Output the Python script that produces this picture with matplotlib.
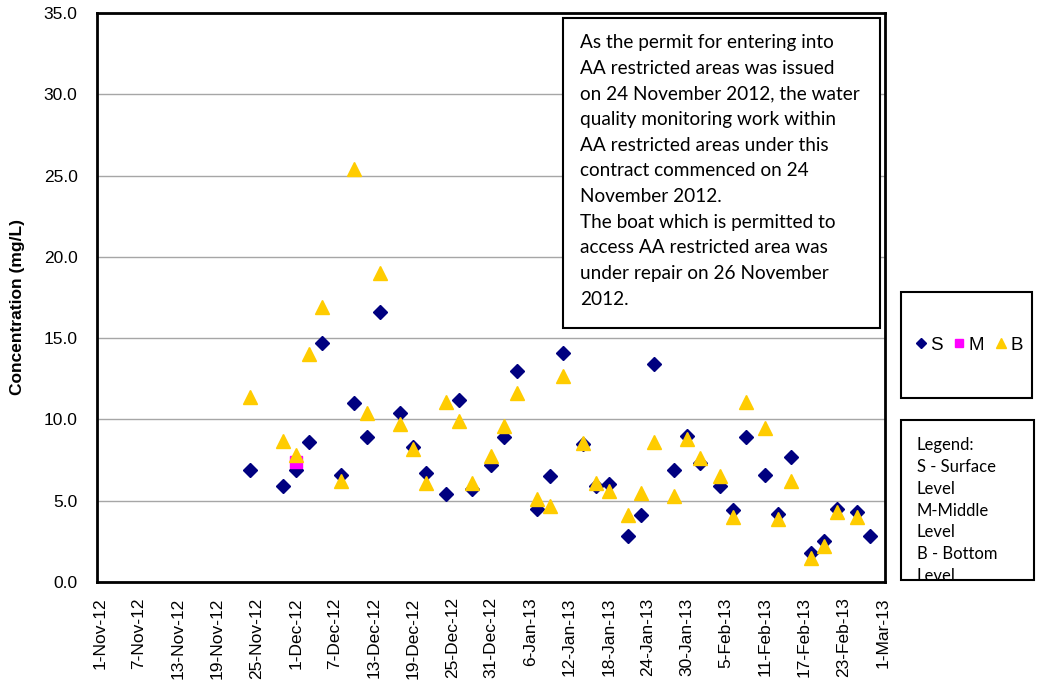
import matplotlib
matplotlib.use("Agg")
import matplotlib.pyplot as plt
from matplotlib.patches import Rectangle
from matplotlib.ticker import FormatStrFormatter, MultipleLocator
import datetime as dt

# ---------------- data ----------------
dates_S = ['2012-11-24', '2012-11-29', '2012-12-01', '2012-12-03', '2012-12-05', '2012-12-08',
           '2012-12-10', '2012-12-12', '2012-12-14', '2012-12-17', '2012-12-19', '2012-12-21',
           '2012-12-24', '2012-12-26', '2012-12-28', '2012-12-31', '2013-01-02', '2013-01-04',
           '2013-01-07', '2013-01-09', '2013-01-11', '2013-01-14', '2013-01-16', '2013-01-18',
           '2013-01-21', '2013-01-23', '2013-01-25', '2013-01-28', '2013-01-30', '2013-02-01',
           '2013-02-04', '2013-02-06', '2013-02-08', '2013-02-11', '2013-02-13', '2013-02-15',
           '2013-02-18', '2013-02-20', '2013-02-22', '2013-02-25', '2013-02-27']
values_S = [6.9, 5.9, 6.9, 8.6, 14.7, 6.6, 11.0, 8.9, 16.6, 10.4, 8.3, 6.7,
            5.4, 11.2, 5.7, 7.2, 8.9, 13.0, 4.5, 6.5, 14.1, 8.5, 5.9, 6.0,
            2.8, 4.1, 13.4, 6.9, 9.0, 7.3, 5.9, 4.4, 8.9, 6.6, 4.2, 7.7,
            1.8, 2.5, 4.5, 4.3, 2.8]

dates_M = ['2012-12-01']
values_M = [7.4]

dates_B = dates_S[:-1]
values_B = [11.4, 8.7, 7.8, 14.0, 16.9, 6.2, 25.4, 10.4, 19.0, 9.7, 8.2, 6.1,
            11.1, 9.9, 6.1, 7.75, 9.6, 11.6, 5.1, 4.7, 12.7, 8.55, 6.1, 5.6,
            4.1, 5.5, 8.6, 5.3, 8.8, 7.6, 6.5, 4.0, 11.1, 9.45, 3.9, 6.2,
            1.5, 2.2, 4.3, 4.0]

note_text = ("As the permit for entering into\n"
             "AA restricted areas was issued\n"
             "on 24 November 2012, the water\n"
             "quality monitoring work within\n"
             "AA restricted areas under this\n"
             "contract commenced on 24\n"
             "November 2012.\n"
             "The boat which is permitted to\n"
             "access AA restricted area was\n"
             "under repair on 26 November\n"
             "2012.")
legend_text = "Legend:\nS - Surface\nLevel\nM-Middle\nLevel\nB - Bottom\nLevel"

# ---------------- figure ----------------
W, H = 1040, 693
plt.rcParams['font.family'] = ['Liberation Sans', 'DejaVu Sans']
fig = plt.figure(figsize=(W / 100, H / 100), dpi=100)

def fx(x):
    return x / W

def fy(y):
    return 1 - y / H

ax = fig.add_axes([fx(97), fy(582), (885 - 97) / W, (582 - 13) / H])

to_dt = lambda lst: [dt.datetime.strptime(d, '%Y-%m-%d') for d in lst]

navy = '#000080'
magenta = '#FF00FF'
gold = '#FFCC00'

ax.plot(to_dt(dates_S), values_S, linestyle='none', marker='D', ms=7.0,
        color=navy, label='S', zorder=3)
ax.plot(to_dt(dates_M), values_M, linestyle='none', marker='s', ms=8.5,
        color=magenta, label='M', zorder=4)
ax.plot(to_dt(dates_B), values_B, linestyle='none', marker='^', ms=9.5,
        color=gold, label='B', zorder=5)

start = dt.datetime(2012, 11, 1)
end = dt.datetime(2013, 3, 1)
ax.set_xlim(start - dt.timedelta(days=0.45), end + dt.timedelta(days=0.35))
ax.set_ylim(0, 35)
ax.yaxis.set_major_locator(MultipleLocator(5))
ax.yaxis.set_major_formatter(FormatStrFormatter('%.1f'))
ticks = [start + dt.timedelta(days=6 * i) for i in range(21)]
ax.set_xticks(ticks)
ax.set_xticklabels([f"{t.day}-{t.strftime('%b')}-{t.strftime('%y')}" for t in ticks],
                   rotation=90, fontsize=12.5)
ax.tick_params(axis='x', length=0, pad=11)
ax.tick_params(axis='y', length=0, pad=14, labelsize=12.5)
ax.grid(axis='y', color='#A6A6A6', linewidth=1.0)
ax.set_axisbelow(True)
for s in ax.spines.values():
    s.set_linewidth(2.0)
    s.set_color('black')

fig.text(fx(18), fy(307), 'Concentration (mg/L)', rotation=90, fontsize=12.5,
         fontweight='bold', ha='center', va='center')

# note box
fig.add_artist(Rectangle((fx(563), fy(328)), (880 - 563) / W, (328 - 18) / H,
                         transform=fig.transFigure, fill=True, facecolor='white',
                         edgecolor='black', linewidth=1.5, zorder=5))
fig.text(fx(580), fy(34), note_text, fontsize=13.7, family='Lato', ha='left',
         va='top', linespacing=1.62, zorder=6)

# series legend box
fig.add_artist(Rectangle((fx(901), fy(398)), (1032 - 901) / W, (398 - 292) / H,
                         transform=fig.transFigure, fill=False,
                         edgecolor='black', linewidth=1.5))
handles, labels = ax.get_legend_handles_labels()
fig.legend(handles, labels, ncol=3, frameon=False, loc='center',
           bbox_to_anchor=(fx(969), fy(345)), fontsize=13.5, markerscale=0.75,
           handlelength=0.6, handletextpad=0.2, columnspacing=0.6,
           borderpad=0, borderaxespad=0)

# text legend box
fig.add_artist(Rectangle((fx(901), fy(580)), (1034 - 901) / W, (580 - 420) / H,
                         transform=fig.transFigure, fill=False,
                         edgecolor='black', linewidth=1.5))
fig.text(fx(917), fy(437), legend_text, fontsize=12, family='Lato', ha='left',
         va='top', linespacing=1.45)

fig.savefig('out.png', dpi=100)
